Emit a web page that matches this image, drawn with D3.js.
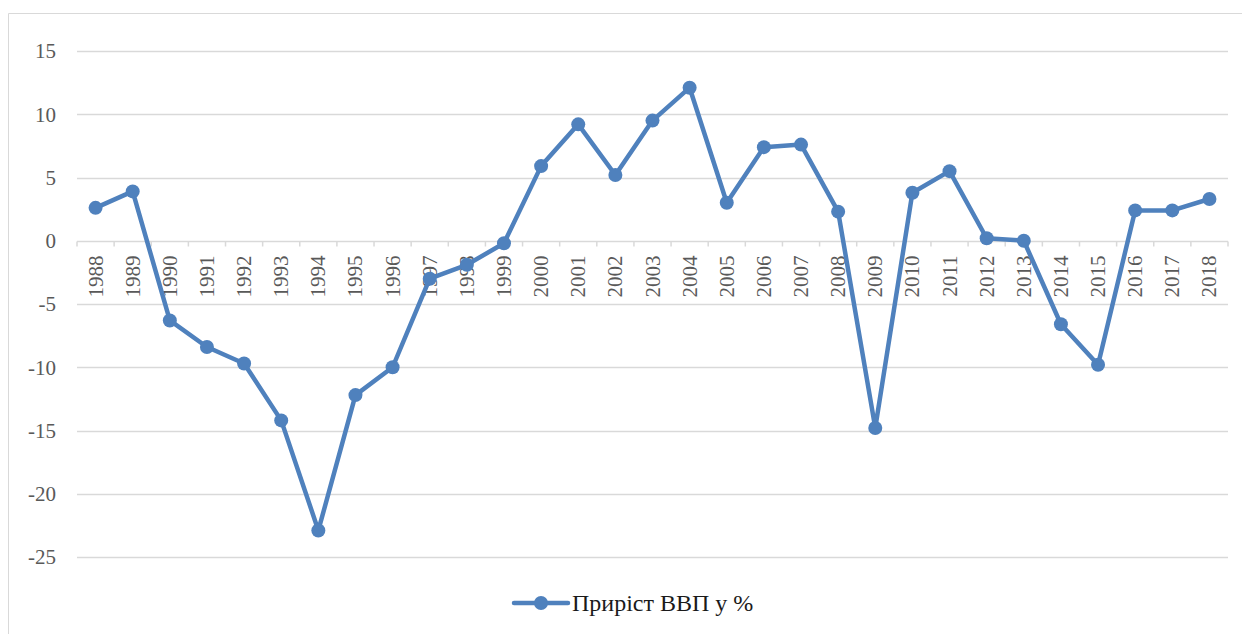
<!DOCTYPE html>
<html>
<head>
<meta charset="utf-8">
<script src="https://cdn.jsdelivr.net/npm/d3@7"></script>
<style>
  body { margin: 0; background: #fff; }
  svg { display: block; }
  svg text { font-family: "Liberation Serif", "Times New Roman", "DejaVu Serif", serif; }
</style>
</head>
<body>
<div id="chart"></div>
<script>
// data
const years = ["1988","1989","1990","1991","1992","1993","1994","1995","1996","1997","1998","1999",
  "2000","2001","2002","2003","2004","2005","2006","2007","2008","2009","2010","2011","2012","2013",
  "2014","2015","2016","2017","2018"];
const gdpGrowth = [2.6, 3.9, -6.3, -8.4, -9.7, -14.2, -22.9, -12.2, -10.0, -3.0, -1.9, -0.2,
  5.9, 9.2, 5.2, 9.5, 12.1, 3.0, 7.4, 7.6, 2.3, -14.8, 3.8, 5.5, 0.2, 0.0,
  -6.6, -9.8, 2.4, 2.4, 3.3];
const yTicks = [15, 10, 5, 0, -5, -10, -15, -20, -25];
const seriesName = "Приріст ВВП у %";

const width = 1242, height = 634;
const margin = {left: 77, right: 14, top: 51, bottom: 77};
const lineColor = "#4f81bd";

const svg = d3.select("#chart").append("svg")
    .attr("width", width)
    .attr("height", height);

// outer frame (only top + left show in the crop)
svg.append("path")
    .attr("d", `M8.5,${height} L8.5,13.5 L${width},13.5`)
    .attr("fill", "none")
    .attr("stroke", "#d9d9d9")
    .attr("stroke-width", 1);

const x = d3.scaleBand()
    .domain(years)
    .range([margin.left, width - margin.right])
    .paddingInner(0).paddingOuter(0);

const y = d3.scaleLinear()
    .domain([-25, 15])
    .range([height - margin.bottom, margin.top]);

// gridlines
svg.append("g")
    .selectAll("line")
    .data(yTicks.filter(d => d !== 0))
    .join("line")
    .attr("x1", margin.left).attr("x2", width - margin.right)
    .attr("y1", d => Math.round(y(d)) + 0.5).attr("y2", d => Math.round(y(d)) + 0.5)
    .attr("stroke", "#d9d9d9")
    .attr("stroke-width", 1.5);

// y labels
svg.append("g")
    .selectAll("text")
    .data(yTicks)
    .join("text")
    .attr("x", 56)
    .attr("y", d => y(d))
    .attr("dy", "0.35em")
    .attr("text-anchor", "end")
    .attr("font-size", 21)
    .attr("fill", "#595959")
    .text(d => d);

// category axis sits on zero
const y0 = Math.round(y(0)) + 0.5;
const xAxis = svg.append("g");
xAxis.append("line")
    .attr("x1", margin.left).attr("x2", width - margin.right)
    .attr("y1", y0).attr("y2", y0)
    .attr("stroke", "#d9d9d9").attr("stroke-width", 1.5);
xAxis.selectAll("line.tick")
    .data(years.concat(["end"]))
    .join("line")
    .attr("class", "tick")
    .attr("x1", (d, i) => margin.left + i * x.bandwidth())
    .attr("x2", (d, i) => margin.left + i * x.bandwidth())
    .attr("y1", y0).attr("y2", y0 + 5)
    .attr("stroke", "#d9d9d9").attr("stroke-width", 1.5);
xAxis.selectAll("text")
    .data(years)
    .join("text")
    .attr("transform", d => `translate(${x(d) + x.bandwidth() / 2 + 7},${y0 + 14}) rotate(-90)`)
    .attr("text-anchor", "end")
    .attr("font-size", 21)
    .attr("fill", "#595959")
    .text(d => d);

// series
const pts = years.map((d, i) => ({year: d, v: gdpGrowth[i]}));
const line = d3.line()
    .x(d => x(d.year) + x.bandwidth() / 2)
    .y(d => y(d.v));

svg.append("path")
    .datum(pts)
    .attr("d", line)
    .attr("fill", "none")
    .attr("stroke", lineColor)
    .attr("stroke-width", 4.5)
    .attr("stroke-linejoin", "round")
    .attr("stroke-linecap", "round");

svg.append("g")
    .selectAll("circle")
    .data(pts)
    .join("circle")
    .attr("cx", d => x(d.year) + x.bandwidth() / 2)
    .attr("cy", d => y(d.v))
    .attr("r", 7)
    .attr("fill", lineColor);

// legend
const lg = svg.append("g").attr("transform", "translate(514,603)");
lg.append("line")
    .attr("x1", 0).attr("x2", 54)
    .attr("stroke", lineColor).attr("stroke-width", 4.5)
    .attr("stroke-linecap", "round");
lg.append("circle").attr("cx", 27).attr("r", 7).attr("fill", lineColor);
lg.append("text")
    .attr("x", 58)
    .attr("dy", "0.35em")
    .attr("font-size", 24)
    .attr("fill", "#1a1a1a")
    .text(seriesName);
</script>
</body>
</html>
